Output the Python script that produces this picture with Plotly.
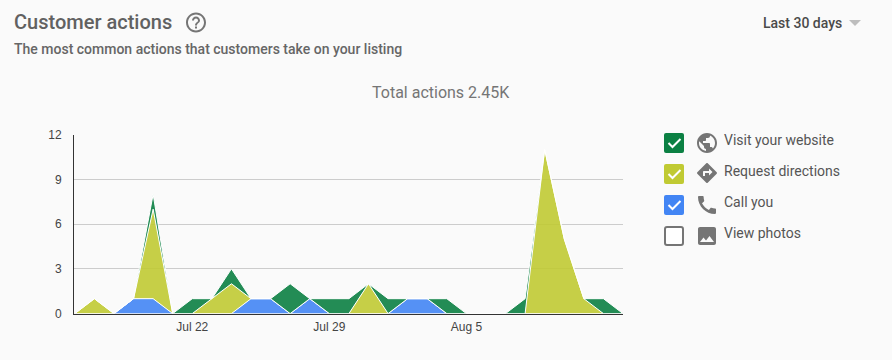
import re
import plotly.graph_objects as go

W, H = 892, 360
dates = ["2018-07-16","2018-07-17","2018-07-18","2018-07-19","2018-07-20","2018-07-21","2018-07-22",
         "2018-07-23","2018-07-24","2018-07-25","2018-07-26","2018-07-27","2018-07-28","2018-07-29",
         "2018-07-30","2018-07-31","2018-08-01","2018-08-02","2018-08-03","2018-08-04","2018-08-05",
         "2018-08-06","2018-08-07","2018-08-08","2018-08-09","2018-08-10","2018-08-11","2018-08-12","2018-08-13"]
call_you =  [0,0,0,1,1,0,0, 0,0,1,1,0,1,0, 0,0,0,1,1,0,0, 0,0,0,0,0,0,0,0]
directions = [0,1,0,0,6,0,0, 1,2,0,0,0,0,0, 0,2,0,0,0,0,0, 0,0,0,11,5,1,0,0]
website =   [0,0,0,0,1,0,1, 0,1,0,0,2,0,1, 1,0,1,0,0,1,0, 0,0,1,0,0,0,1,0]
tick_dates = ["2018-07-22", "2018-07-29", "2018-08-05"]
tick_labels = ["Jul 22", "Jul 29", "Aug 5"]
y_ticks = [0, 3, 6, 9, 12]
legend_labels = ["Visit your website", "Request directions", "Call you", "View photos"]

ICONS = {
 "public": "M12 2C6.48 2 2 6.48 2 12s4.48 10 10 10 10-4.48 10-10S17.52 2 12 2zm-1 17.93c-3.95-.49-7-3.85-7-7.93 0-.62.08-1.21.21-1.79L9 15v1c0 1.1.9 2 2 2v1.93zm6.9-2.54c-.26-.81-1-1.39-1.9-1.39h-1v-3c0-.55-.45-1-1-1H8v-2h2c.55 0 1-.45 1-1V7h2c1.1 0 2-.9 2-2v-.41c2.93 1.19 5 4.06 5 7.41 0 2.08-.8 3.97-2.1 5.39z",
 "directions": "M21.71 11.29l-9-9c-.39-.39-1.02-.39-1.41 0l-9 9c-.39.39-.39 1.02 0 1.41l9 9c.39.39 1.02.39 1.41 0l9-9c.39-.38.39-1.01 0-1.41zM14 14.5V12h-4v3H8v-4c0-.55.45-1 1-1h5V7.5l3.5 3.5-3.5 3.5z",
 "phone": "M20.01 15.38c-1.23 0-2.42-.2-3.53-.56-.35-.12-.74-.03-1.01.24l-1.57 1.97c-2.83-1.35-5.48-3.9-6.89-6.83l1.95-1.66c.27-.28.35-.67.24-1.02-.37-1.11-.56-2.3-.56-3.53 0-.54-.45-.99-.99-.99H4.19C3.65 3 3 3.24 3 3.99 3 13.28 10.73 21 20.01 21c.71 0 .99-.63.99-1.18v-3.45c0-.54-.45-.99-.99-.99z",
 "image": "M21 19V5c0-1.1-.9-2-2-2H5c-1.1 0-2 .9-2 2v14c0 1.1.9 2 2 2h14c1.1 0 2-.9 2-2zM8.5 13.5l2.5 3.01L14.5 12l4.5 6H5l3.5-4.5z",
 "help": "M11 18h2v-2h-2v2zm1-16C6.48 2 2 6.48 2 12s4.48 10 10 10 10-4.48 10-10S17.52 2 12 2zm0 18c-4.41 0-8-3.59-8-8s3.59-8 8-8 8 3.59 8 8-3.59 8-8 8zm0-14c-2.21 0-4 1.79-4 4h2c0-1.1.9-2 2-2s2 .9 2 2c0 2-3 1.75-3 5h2c0-2.25 3-2.5 3-5 0-2.21-1.79-4-4-4z",
}

def pt(x, y):
    return f"{x / W:.6f},{1 - y / H:.6f}"

def icon_path(d, ox, oy, s=1.0):
    out, cx, cy, sx, sy = [], 0.0, 0.0, 0.0, 0.0
    for cmd, args in re.findall(r"([MmLlHhVvCcSsZz])([^MmLlHhVvCcSsZz]*)", d):
        n = [float(v) for v in re.findall(r"-?\d*\.?\d+", args)]
        rel = cmd.islower()
        c = cmd.upper()
        if c == "Z":
            out.append("Z"); cx, cy = sx, sy; continue
        if c in "HV":
            for v in n:
                if c == "H": cx = cx + v if rel else v
                else: cy = cy + v if rel else v
                out.append("L" + pt(ox + s * cx, oy + s * cy))
            continue
        size = {"M": 2, "L": 2, "C": 6, "S": 4}[c]
        for i in range(0, len(n), size):
            g = n[i:i + size]
            abs_pts = []
            for j in range(0, size, 2):
                abs_pts.append((g[j] + cx, g[j + 1] + cy) if rel else (g[j], g[j + 1]))
            cx, cy = abs_pts[-1]
            letter = c if not (c == "M" and i > 0) else "L"
            if letter == "M": sx, sy = cx, cy
            out.append(letter + " ".join(pt(ox + s * a, oy + s * b) for a, b in abs_pts))
    return "".join(out)

def rrect(x0, y0, x1, y1, r=2):
    return ("M" + pt(x0 + r, y0) + "L" + pt(x1 - r, y0) + "Q" + pt(x1, y0) + " " + pt(x1, y0 + r) +
            "L" + pt(x1, y1 - r) + "Q" + pt(x1, y1) + " " + pt(x1 - r, y1) +
            "L" + pt(x0 + r, y1) + "Q" + pt(x0, y1) + " " + pt(x0, y1 - r) +
            "L" + pt(x0, y0 + r) + "Q" + pt(x0, y0) + " " + pt(x0 + r, y0) + "Z")

def shape(path, fill="rgba(0,0,0,0)", line=None, lw=0):
    return dict(type="path", xref="paper", yref="paper", path=path, fillcolor=fill,
                line=dict(color=line or "rgba(0,0,0,0)", width=lw), layer="above")

BG = "#fafafa"
fig = go.Figure()
for name, vals, col in [("Call you", call_you, "rgba(66,133,244,0.9)"),
                        ("Request directions", directions, "rgba(192,202,51,0.9)"),
                        ("Visit your website", website, "rgba(11,128,67,0.9)")]:
    fig.add_trace(go.Scatter(x=dates, y=vals, name=name, mode="lines", stackgroup="one",
                             fillcolor=col, line=dict(color="#ffffff", width=1), cliponaxis=False))

shapes = []
box_cols = ["#0b8043", "#c0ca33", "#4285f4", None]
box_tops = [133, 164, 195, 226]
icon_tops = [131, 161, 193, 224]
icon_names = ["public", "directions", "phone", "image"]
ann = []

def text(t, x, y, size, color, anchor="left", weight=400):
    ann.append(dict(text=t, x=x / W, y=1 - y / H, xanchor=anchor, yanchor="middle", showarrow=False,
                    xref="paper", yref="paper", borderpad=0,
                    font=dict(family="Roboto", size=size, color=color, weight=weight)))

for lab, col, by, iy, ic, ty in zip(legend_labels, box_cols, box_tops, icon_tops, icon_names, [140.5, 171, 202, 233]):
    if col:
        shapes.append(shape(rrect(664, by, 684, by + 20), fill=col))
        shapes.append(shape("M" + pt(668.5, by + 10) + "L" + pt(672.5, by + 14) + "L" + pt(680.5, by + 6),
                            line="#ffffff", lw=2))
    else:
        shapes.append(shape(rrect(665, by + 1, 683, by + 19), fill="#ffffff", line="#757575", lw=2))
    shapes.append(shape(icon_path(ICONS[ic], 695, iy), fill="#757575"))
    text(lab, 723, ty, 14, "#555555")
shapes.append(shape(icon_path(ICONS["help"], 184, 10.5), fill="#757575"))
shapes.append(shape("M" + pt(849, 20) + "L" + pt(861, 20) + "L" + pt(855, 26) + "Z", fill="#bdbdbd"))

text("Customer actions", 13, 22, 20, "#616161", weight=500)
text("The most common actions that customers take on your listing", 13, 49, 14, "#666666", weight=500)
text("Total actions 2.45K", 441, 92.5, 16, "#757575", anchor="center")
text("Last 30 days", 762, 23, 14, "#4a4a4a", weight=500)

TICK_FONT = dict(family="Liberation Sans, Arial", size=12, color="#444444")
fig.update_layout(
    width=W, height=H, autosize=False, margin=dict(l=0, r=0, t=0, b=0),
    paper_bgcolor=BG, plot_bgcolor=BG, showlegend=False, shapes=shapes, annotations=ann,
    xaxis=dict(domain=[74 / W, 623 / W], type="date", range=["2018-07-15 23:00", "2018-08-13 00:00"],
               tickvals=tick_dates, ticktext=tick_labels, showgrid=False, zeroline=False, automargin=False,
               showline=True, linecolor="#333333", linewidth=1, ticks="", layer="below traces",
               ticklabelstandoff=2, tickfont=TICK_FONT),
    yaxis=dict(domain=[1 - 313.6 / H, 1 - 134.6 / H], range=[0, 12], tickvals=y_ticks, showgrid=True, automargin=False,
               gridcolor="#cccccc", gridwidth=1, zeroline=False, showline=True, linecolor="#333333",
               linewidth=1, ticks="", layer="below traces",
               ticklabelstandoff=9, tickfont=TICK_FONT),
)
fig.write_html("out.html", config={"displayModeBar": False},
               post_script="document.body.style.margin='0';document.body.style.background='#fafafa';")
